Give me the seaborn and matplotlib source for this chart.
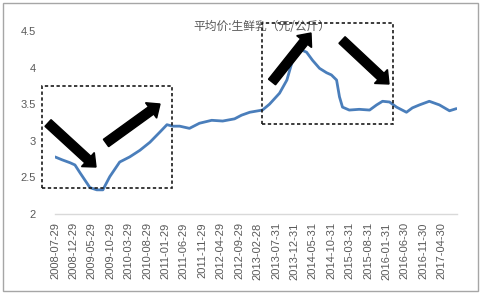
import matplotlib
matplotlib.use("Agg")
import matplotlib.pyplot as plt
import matplotlib.patches as mpatches
import seaborn as sns
import pandas as pd

# ---- data ----
dates = ["2008-07-29", "2008-09-26", "2008-12-01", "2009-01-10", "2009-02-22",
         "2009-04-20", "2009-05-14", "2009-07-10", "2009-08-29", "2009-10-25",
         "2010-01-15", "2010-04-08", "2010-07-01", "2010-09-22", "2010-12-14",
         "2011-02-10", "2011-03-29", "2011-05-26", "2011-08-15", "2011-11-06",
         "2012-02-15", "2012-05-16", "2012-08-22", "2012-10-19", "2012-12-26",
         "2013-04-10", "2013-06-07", "2013-08-29", "2013-10-29", "2013-12-08",
         "2014-01-19", "2014-02-28", "2014-04-10", "2014-05-29", "2014-07-26",
         "2014-09-22", "2014-11-01", "2014-12-14", "2015-01-07", "2015-02-01",
         "2015-03-29", "2015-06-19", "2015-09-13", "2015-11-10", "2015-12-29",
         "2016-02-25", "2016-04-23", "2016-07-14", "2016-09-01", "2016-10-29",
         "2017-01-19", "2017-04-13", "2017-07-05", "2017-09-01"]
prices = [2.78, 2.74, 2.70, 2.67, 2.56,
          2.42, 2.36, 2.33, 2.33, 2.51,
          2.71, 2.78, 2.87, 2.98, 3.12,
          3.22, 3.20, 3.20, 3.17, 3.24,
          3.28, 3.27, 3.30, 3.35, 3.39,
          3.42, 3.50, 3.65, 3.83, 4.06,
          4.20, 4.24, 4.21, 4.10, 3.99,
          3.93, 3.90, 3.83, 3.60, 3.46,
          3.42, 3.43, 3.42, 3.49, 3.54,
          3.53, 3.46, 3.39, 3.45, 3.49,
          3.54, 3.49, 3.41, 3.44]
tick_labels = ["2008-07-29", "2008-12-29", "2009-05-29", "2009-10-29", "2010-03-29",
               "2010-08-29", "2011-01-29", "2011-06-29", "2011-11-29", "2012-04-29",
               "2012-09-29", "2013-02-28", "2013-07-31", "2013-12-31", "2014-05-31",
               "2014-10-31", "2015-03-31", "2015-08-31", "2016-01-31", "2016-06-30",
               "2016-11-30", "2017-04-30"]
y_ticks = [2, 2.5, 3, 3.5, 4, 4.5]
y_tick_labels = ["2", "2.5", "3", "3.5", "4", "4.5"]
title = "平均价:生鲜乳（元/公斤）"

sns.set_style("white")
plt.rcParams["font.family"] = ["Liberation Sans", "Noto Sans CJK SC", "DejaVu Sans"]

df = pd.DataFrame({"date": pd.to_datetime(dates), "price": prices})

fig = plt.figure(figsize=(4.85, 2.96), dpi=100)
ax = fig.add_axes([55 / 485, 1 - 214 / 296, (457 - 55) / 485, (214 - 31) / 296])

sns.lineplot(data=df, x="date", y="price", ax=ax, color="#4A7EBB", linewidth=2)

ax.set_ylim(2, 4.5)
ax.set_xlim(pd.Timestamp("2008-07-29"), pd.Timestamp("2017-09-05"))
ax.set_yticks(y_ticks)
ax.set_yticklabels(y_tick_labels)
ax.set_xticks(pd.to_datetime(tick_labels))
ax.set_xticklabels(tick_labels, rotation=90)
ax.set_xlabel("")
ax.set_ylabel("")
ax.tick_params(axis="y", length=0, labelsize=8, labelcolor="#595959", pad=14)
ax.tick_params(axis="x", length=4, width=0.8, color="#D9D9D9", labelsize=8,
               labelcolor="#595959", pad=2, direction="out")
for s in ["top", "right", "left"]:
    ax.spines[s].set_visible(False)
ax.spines["bottom"].set_color("#D9D9D9")
ax.spines["bottom"].set_linewidth(1)
ax.grid(False)

fig.text(262 / 485, 1 - 27 / 296, title, ha="center", va="center",
         fontsize=8.5, color="#595959",
         family=["Noto Sans CJK SC", "DejaVu Sans"])

# ---- annotations in pixel space (inches = px/100, y from bottom) ----
H = 296
tr = fig.dpi_scale_trans

def box(x0, y0, x1, y1):
    r = mpatches.Rectangle((x0 / 100, (H - y1) / 100), (x1 - x0) / 100, (y1 - y0) / 100,
                           transform=tr, fill=False, edgecolor="#1a1a1a",
                           linestyle=(0, (2, 1.5)), linewidth=1.2, zorder=5)
    fig.patches.append(r)

def arrow(x0, y0, x1, y1):
    tx, ty = x0 / 100, (H - y0) / 100
    dx, dy = (x1 - x0) / 100, -(y1 - y0) / 100
    a = mpatches.FancyArrow(tx, ty, dx, dy, width=0.09, head_width=0.19,
                            head_length=0.11, length_includes_head=True,
                            transform=tr, color="black", zorder=6)
    fig.patches.append(a)

box(42, 86, 172, 188)
box(262, 23, 393, 124)
arrow(48, 123, 96, 167)
arrow(106, 143, 160, 104)
arrow(272, 82, 311, 33)
arrow(342, 40, 389, 84)

# outer border
border = mpatches.Rectangle((3 / 100, (H - 291) / 100), (478 - 3) / 100, (291 - 3) / 100,
                            transform=tr, fill=False, edgecolor="#A6A6A6", linewidth=1)
fig.patches.append(border)

fig.savefig("out.png", dpi=100)
